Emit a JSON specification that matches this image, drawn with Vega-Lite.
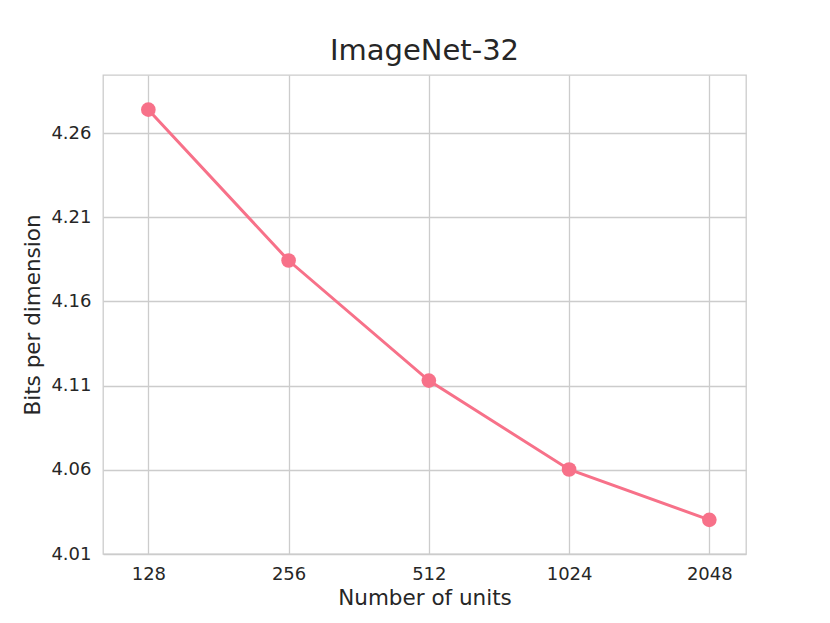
{
  "$schema": "https://vega.github.io/schema/vega-lite/v6.json",
  "width": 643,
  "height": 479,
  "autosize": "none",
  "padding": {"left": 103, "top": 75, "right": 84, "bottom": 69},
  "background": "white",
  "title": {"text": "ImageNet-32", "font": "DejaVu Sans", "fontSize": 29, "fontWeight": "normal", "color": "#262626", "offset": 9},
  "config": {
    "view": {"stroke": "#cccccc", "strokeWidth": 1.3},
    "axis": {"labelFont": "DejaVu Sans", "titleFont": "DejaVu Sans", "labelFontSize": 18, "titleFontSize": 21.5, "titleFontWeight": "normal", "labelColor": "#262626", "titleColor": "#262626", "gridColor": "#cccccc", "gridWidth": 1.3, "ticks": false, "domain": false}
  },
  "data": {"values": [
    {"units": 128, "bpd": 4.2739},
    {"units": 256, "bpd": 4.1843},
    {"units": 512, "bpd": 4.1130},
    {"units": 1024, "bpd": 4.0602},
    {"units": 2048, "bpd": 4.0303}
  ]},
  "encoding": {
    "x": {"field": "units", "type": "quantitative", "scale": {"type": "log", "base": 2, "domain": [102.3, 2455], "nice": false},
      "axis": {"title": "Number of units", "values": [128, 256, 512, 1024, 2048], "format": "d", "labelPadding": 11, "titlePadding": 4, "labelFlush": false}},
    "y": {"field": "bpd", "type": "quantitative", "scale": {"domain": [4.01, 4.2945], "nice": false, "zero": false},
      "axis": {"title": "Bits per dimension", "values": [4.01, 4.06, 4.11, 4.16, 4.21, 4.26], "format": ".2f", "labelPadding": 12, "titlePadding": 6}}
  },
  "layer": [
    {"mark": {"type": "line", "color": "#f77189", "strokeWidth": 3}},
    {"mark": {"type": "point", "filled": true, "opacity": 1, "color": "#f77189", "size": 215}}
  ]
}
